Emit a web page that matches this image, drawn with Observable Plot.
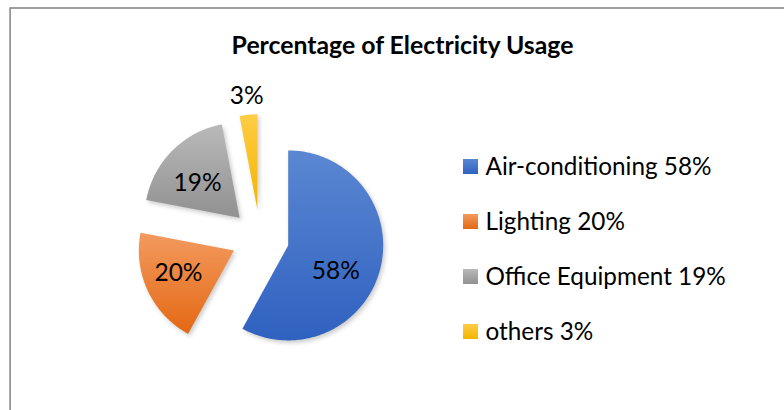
<!DOCTYPE html>
<html><head><meta charset="utf-8">
<script src="https://cdn.jsdelivr.net/npm/d3@7"></script>
<script src="https://cdn.jsdelivr.net/npm/@observablehq/plot@0.6"></script>
<style>
html,body{margin:0;padding:0;background:#fff;}
#chart{width:784px;height:410px;overflow:hidden;}
</style></head><body><div id="chart"></div>
<script>
// ---- data ----
const title = "Percentage of Electricity Usage";
const categories = ["Air-conditioning", "Lighting", "Office Equipment", "others"];
const values = [58, 20, 19, 3];
const sliceLabels = ["58%", "20%", "19%", "3%"];
const legendLabels = ["Air-conditioning 58%", "Lighting 20%", "Office Equipment 19%", "others 3%"];
const colorsTop = ["#5b87d2", "#f39a5f", "#b9b9b9", "#ffcd45"];
const colorsBottom = ["#2f61c0", "#e36813", "#919191", "#f3b400"];

// ---- layout ----
const W = 784, H = 410;
const cx = 259.6, cy = 237.7, R = 95, explode = 29;
const labelRadius = [0.57, 0.63, 0.57, 1.2];
const labelTurn = [14, 3, -6, 0];
const legX = 463, legSize = 15, legY0 = 174, legStep = 55, legTextX = 485;

const deg = Math.PI / 180;
const dir = a => [Math.sin(a), -Math.cos(a)];
const pie = d3.pie().sort(null).value(d => d)(values);

const slices = [];
const labelPts = [];
pie.forEach((p, i) => {
  const mid = (p.startAngle + p.endAngle) / 2;
  const [ux, uy] = dir(mid);
  const vx = cx + explode * ux, vy = cy + explode * uy;
  const pts = [{x: vx, y: vy}];
  const n = Math.max(2, Math.ceil((p.endAngle - p.startAngle) / deg));
  for (let j = 0; j <= n; j++) {
    const a = p.startAngle + (p.endAngle - p.startAngle) * j / n;
    const [dx, dy] = dir(a);
    pts.push({x: vx + R * dx, y: vy + R * dy});
  }
  pts.push({x: vx, y: vy});
  slices.push(pts);
  const [lx, ly] = dir(mid + labelTurn[i] * deg);
  labelPts.push({x: vx + labelRadius[i] * R * lx, y: vy + labelRadius[i] * R * ly, text: sliceLabels[i]});
});

const legend = legendLabels.map((t, i) => ({t, i, fill: `url(#g${i})`}));

const svg = Plot.plot({
  width: W, height: H,
  margin: 0,
  style: {fontFamily: "Lato", background: "#fff", color: "#000"},
  x: {type: "linear", domain: [0, W], range: [0, W], axis: null},
  y: {type: "linear", domain: [0, H], range: [0, H], axis: null},
  color: {type: "identity"},
  marks: [
    Plot.frame({stroke: "#8a8a8a", strokeWidth: 1.6, insetLeft: 9.6, insetTop: 7.5, insetRight: -20, insetBottom: -20}),
    ...slices.map(pts => Plot.line(pts, {x: "x", y: "y", fill: "#000", fillOpacity: 0.2, stroke: "none", dx: 2, dy: 2.5})),
    ...slices.map((pts, i) => Plot.line(pts, {x: "x", y: "y", fill: `url(#g${i})`, stroke: "none"})),
    Plot.text(labelPts, {x: "x", y: "y", text: "text", fontSize: 24.5, fill: "#000", textAnchor: "middle", lineAnchor: "middle"}),
    Plot.text([title], {x: () => 402, y: () => 53, text: d => d, fontSize: 24.8, fontWeight: "bold", fill: "#000", textAnchor: "middle", lineAnchor: "bottom"}),
    Plot.rect(legend, {x1: () => legX, x2: () => legX + legSize, y1: d => legY0 + d.i * legStep - legSize, y2: d => legY0 + d.i * legStep, fill: "fill"}),
    Plot.text(legend, {x: () => legTextX, y: d => legY0 + d.i * legStep, text: "t", fontSize: 24.3, fill: "#000", textAnchor: "start", lineAnchor: "bottom"})
  ]
});

const s = d3.select(svg);
const defs = s.insert("defs", ":first-child");
colorsTop.forEach((c, i) => {
  const g = defs.append("linearGradient").attr("id", `g${i}`).attr("x1", 0).attr("y1", 0).attr("x2", 0).attr("y2", 1);
  g.append("stop").attr("offset", 0).attr("stop-color", c);
  g.append("stop").attr("offset", 1).attr("stop-color", colorsBottom[i]);
});
defs.append("filter").attr("id", "blur").attr("x", "-20%").attr("y", "-20%").attr("width", "140%").attr("height", "140%")
  .append("feGaussianBlur").attr("stdDeviation", 2.2);
s.selectAll('g[fill-opacity="0.2"] path').attr("filter", "url(#blur)");
document.getElementById("chart").appendChild(svg);
</script>
</body></html>
